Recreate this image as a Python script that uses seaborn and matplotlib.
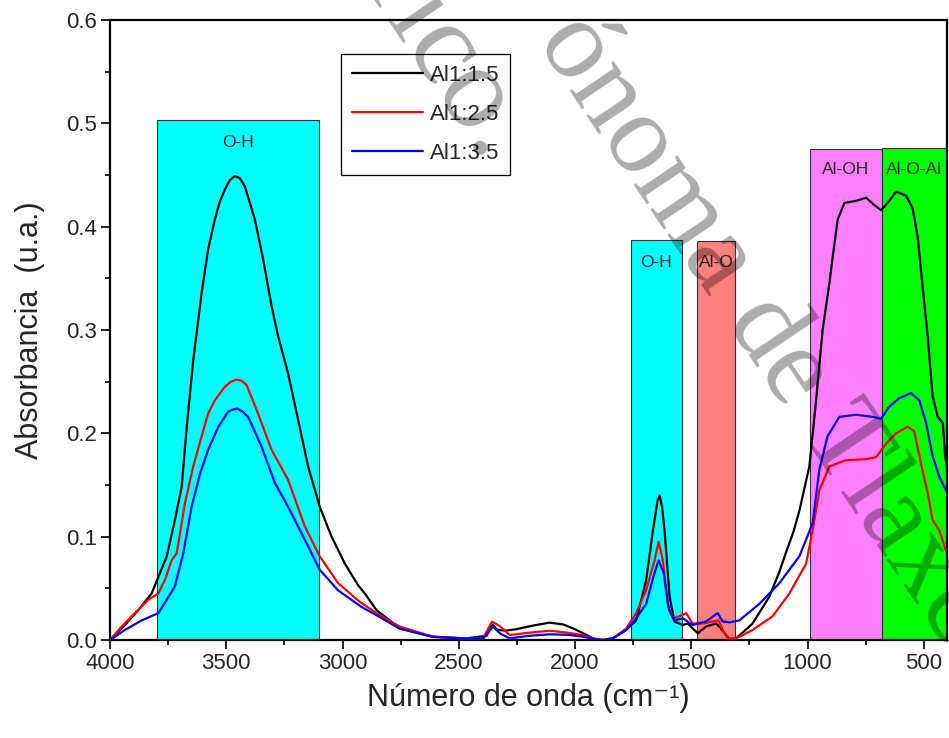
import numpy as np
import pandas as pd
import matplotlib
matplotlib.use("Agg")
import matplotlib.pyplot as plt
from matplotlib.patches import Rectangle
from matplotlib.ticker import MultipleLocator, FormatStrFormatter
import seaborn as sns

# ---- FTIR spectra (wavenumber in cm-1, absorbance in u.a.) ----
wn_a = [4000, 3936, 3878, 3821, 3792, 3756, 3721, 3692, 3670, 3642, 3606, 3578, 3549, 3528,
        3506, 3485, 3463, 3442, 3420, 3377, 3341, 3305, 3277, 3234, 3191, 3148, 3098, 3047,
        2990, 2933, 2904, 2854, 2754, 2611, 2467, 2381, 2355, 2335, 2300, 2253, 2180, 2109,
        2050, 2009, 1960, 1923, 1880, 1837, 1780, 1737, 1694, 1665, 1645, 1636, 1625, 1615,
        1593, 1572, 1536, 1515, 1472, 1436, 1393, 1372, 1336, 1307, 1236, 1164, 1121, 1092,
        1060, 1035, 1010, 992, 963, 935, 906, 892, 870, 841, 791, 748, 713, 684, 655, 619,
        576, 548, 526, 505, 483, 462, 440, 418, 408, 400]
abs_a = [0.000, 0.0145, 0.029, 0.045, 0.061, 0.081, 0.116, 0.148, 0.206, 0.271, 0.336, 0.378,
         0.407, 0.424, 0.436, 0.445, 0.449, 0.447, 0.439, 0.407, 0.368, 0.323, 0.294, 0.258,
         0.213, 0.168, 0.129, 0.100, 0.074, 0.053, 0.045, 0.029, 0.0113, 0.0032, 0.0016,
         0.004, 0.015, 0.010, 0.009, 0.0104, 0.014, 0.0168, 0.015, 0.0113, 0.006, 0.0016,
         0.000, 0.0016, 0.0097, 0.019, 0.058, 0.106, 0.135, 0.140, 0.128, 0.106, 0.042,
         0.0177, 0.0145, 0.016, 0.0065, 0.013, 0.016, 0.011, 0.0007, 0.0016, 0.016, 0.042,
         0.066, 0.085, 0.105, 0.125, 0.150, 0.168, 0.232, 0.300, 0.345, 0.370, 0.407, 0.423,
         0.425, 0.428, 0.421, 0.416, 0.423, 0.434, 0.430, 0.418, 0.390, 0.342, 0.294, 0.236,
         0.216, 0.210, 0.178, 0.168]

wn_b = [4000, 3950, 3893, 3835, 3792, 3764, 3735, 3713, 3678, 3642, 3606, 3578, 3549, 3506,
        3480, 3456, 3435, 3413, 3363, 3305, 3234, 3162, 3098, 3019, 2926, 2854, 2754, 2611,
        2467, 2396, 2357, 2324, 2281, 2200, 2109, 2030, 1966, 1909, 1880, 1837, 1780, 1737,
        1694, 1658, 1640, 1622, 1601, 1579, 1551, 1522, 1494, 1450, 1407, 1382, 1365, 1343,
        1307, 1236, 1150, 1078, 1006, 978, 949, 906, 835, 748, 705, 662, 619, 569, 541, 512,
        483, 462, 433, 405]
abs_b = [0.000, 0.013, 0.026, 0.039, 0.045, 0.058, 0.077, 0.084, 0.132, 0.168, 0.197, 0.219,
         0.232, 0.245, 0.250, 0.252, 0.251, 0.247, 0.219, 0.184, 0.155, 0.110, 0.081, 0.055,
         0.037, 0.026, 0.013, 0.0032, 0.0013, 0.0016, 0.0177, 0.0136, 0.0048, 0.007, 0.009,
         0.007, 0.0048, 0.0007, 0.000, 0.0016, 0.011, 0.026, 0.048, 0.077, 0.095, 0.077,
         0.035, 0.021, 0.023, 0.026, 0.016, 0.016, 0.018, 0.019, 0.0097, 0.0016, 0.0016,
         0.0097, 0.023, 0.045, 0.074, 0.106, 0.145, 0.168, 0.174, 0.175, 0.177, 0.190, 0.200,
         0.2065, 0.202, 0.171, 0.142, 0.116, 0.106, 0.087]

wn_c = [4000, 3936, 3864, 3792, 3756, 3721, 3685, 3649, 3613, 3578, 3535, 3492, 3472, 3452,
        3430, 3406, 3348, 3291, 3234, 3162, 3098, 3019, 2918, 2854, 2754, 2611, 2467, 2396,
        2353, 2320, 2281, 2200, 2109, 2030, 1966, 1909, 1880, 1837, 1780, 1737, 1694, 1658,
        1640, 1619, 1596, 1572, 1536, 1494, 1436, 1386, 1365, 1336, 1293, 1207, 1121, 1035,
        978, 949, 914, 863, 791, 720, 684, 648, 605, 555, 519, 490, 462, 433, 405]
abs_c = [0.000, 0.0097, 0.019, 0.026, 0.039, 0.052, 0.084, 0.129, 0.161, 0.184, 0.206, 0.221,
         0.223, 0.224, 0.221, 0.216, 0.187, 0.152, 0.129, 0.097, 0.068, 0.048, 0.032, 0.024,
         0.011, 0.003, 0.0013, 0.0013, 0.0129, 0.006, 0.0016, 0.004, 0.0055, 0.005, 0.0032,
         0.0005, 0.000, 0.0016, 0.0097, 0.021, 0.035, 0.065, 0.077, 0.065, 0.029, 0.019,
         0.021, 0.0145, 0.018, 0.026, 0.018, 0.017, 0.019, 0.035, 0.055, 0.081, 0.113, 0.165,
         0.197, 0.216, 0.218, 0.216, 0.214, 0.226, 0.234, 0.239, 0.232, 0.210, 0.178, 0.158,
         0.145]

series_names = ["Al1:1.5", "Al1:2.5", "Al1:3.5"]
series_colors = ["#000000", "#ff0000", "#0000ff"]

# ---- absorption band assignments ----
band_labels = ["O-H", "O-H", "Al-O", "Al-OH", "Al-O-Al"]
band_hi = [3800, 1760, 1475, 990, 680]
band_lo = [3100, 1540, 1310, 680, 400]
band_top = [0.503, 0.387, 0.386, 0.475, 0.476]
band_colors = ["#00ffff", "#00ffff", "#ff8080", "#ff80ff", "#00ff00"]
band_label_y = [0.481, 0.365, 0.365, 0.455, 0.455]

df = pd.concat([
    pd.DataFrame({"wn": w, "abs": a, "muestra": n})
    for w, a, n in zip([wn_a, wn_b, wn_c], [abs_a, abs_b, abs_c], series_names)
], ignore_index=True)

sns.set_style("ticks")
plt.rcParams["font.family"] = ["Liberation Sans", "DejaVu Sans"]

fig = plt.figure(figsize=(9.49, 7.38), dpi=100)
ax = fig.add_axes([110 / 949, 1 - 640 / 738, 837 / 949, 620 / 738])

for lo, hi, top, col, lab, ly in zip(band_lo, band_hi, band_top, band_colors,
                                     band_labels, band_label_y):
    ax.add_patch(Rectangle((lo, 0), hi - lo, top, facecolor=col,
                           edgecolor="#333333", linewidth=0.8, zorder=1))
    ax.text((lo + hi) / 2, ly, lab, ha="center", va="center", fontsize=12.5, zorder=2)

sns.lineplot(data=df, x="wn", y="abs", hue="muestra", palette=series_colors,
             estimator=None, sort=False, linewidth=1.6, ax=ax, zorder=3)

ax.set_xlim(4000, 400)
ax.set_ylim(0, 0.6)
ax.xaxis.set_major_locator(MultipleLocator(500))
ax.xaxis.set_minor_locator(MultipleLocator(250))
ax.yaxis.set_major_locator(MultipleLocator(0.1))
ax.yaxis.set_minor_locator(MultipleLocator(0.05))
ax.yaxis.set_major_formatter(FormatStrFormatter("%.1f"))
ax.tick_params(which="major", direction="out", length=6.5, width=1.2,
               labelsize=16, pad=3, color="black")
ax.tick_params(which="minor", direction="out", length=3.5, width=1.2, color="black")
for sp in ax.spines.values():
    sp.set_linewidth(1.6)
    sp.set_color("black")

ax.set_xlabel("Número de onda (cm⁻¹)", fontsize=22, labelpad=6)
ax.set_ylabel("Absorbancia  (u.a.)", fontsize=22, labelpad=15)

leg = ax.legend(loc="upper left", bbox_to_anchor=(0.2757, 0.945), borderaxespad=0,
                fontsize=16, frameon=True, fancybox=False, framealpha=1,
                edgecolor="black", handlelength=3.2, handletextpad=0.3,
                labelspacing=0.8, borderpad=0.5, title=None)
leg.get_frame().set_linewidth(0.9)
for h in leg.get_lines():
    h.set_linewidth(1.6)

# repository watermark lettering
wm_kw = dict(family=["Liberation Serif", "DejaVu Serif"], color="black",
             alpha=0.33, rotation=-56, rotation_mode="anchor", va="baseline", zorder=10)
fig.text(482 / 949, 1 - 166 / 738, "Histórico.", ha="right", fontsize=86, **wm_kw)
fig.text(536 / 949, 1 - 40 / 738, "ónoma de Tlaxcala", ha="left", fontsize=82, **wm_kw)

fig.savefig("out.png", dpi=100)
